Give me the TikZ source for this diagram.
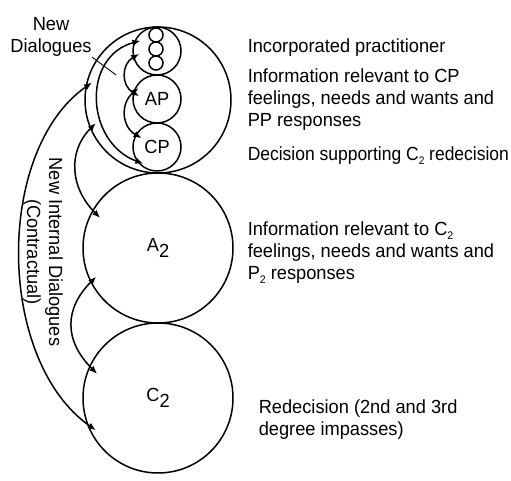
\documentclass[tikz,border=0pt]{standalone}
\usepackage{fontspec}
\setmainfont[FakeStretch=0.96]{Liberation Sans}
\newfontfamily\narrowfont[FakeStretch=0.92]{Liberation Sans}
\usetikzlibrary{arrows,arrows.meta}

\newcommand{\lowtwo}{\raisebox{-6pt}{2}}
\newcommand{\subtwo}{\raisebox{-4pt}{\fontsize{11}{11}\selectfont 2}}

\begin{document}
\begin{tikzpicture}[x=1pt,y=1pt,>={Latex[length=8pt,width=6.5pt]},line width=1.5pt,
    font=\fontsize{19}{22}\selectfont,
    ring node/.style={circle,draw,inner sep=0pt,minimum size=#1},
    dlg/.style={<->,shorten <=-7pt,shorten >=-7pt},
    far dlg/.style={<->,shorten <=-8pt,shorten >=-11pt},
    note/.style={anchor=north west,align=left,inner sep=0pt}]

  \useasboundingbox (0,0) rectangle (511,481);

  % ego states
  \node[ring node=146pt] (self) at (158,381) {};
  \node[ring node=48pt] (P) at (157,430) {};
  \node[ring node=48pt] (AP) at (157,382) {AP};
  \node[ring node=48pt] (CP) at (157,334) {CP};
  \foreach \y/\n in {446/1,432/2,418/3}
    \node[ring node=14pt] (t\n) at (156,\y) {};
  \node[ring node=150pt] (A2) at (158,233) {A\lowtwo};
  \node[ring node=150pt] (C2) at (158,83) {C\lowtwo};

  % dialogues
  \path
        (P.160) edge[dlg,out=195,in=160,looseness=1.17] (CP.215)
        (P.195) edge[dlg,out=210,in=150] (AP.165)
        (AP.165) edge[dlg,out=220,in=150] (CP.150)
        (self.170) edge[far dlg,out=215,in=145,looseness=0.84] (C2.200)
        (self.203) edge[far dlg,out=225,in=135] (A2.150)
        (A2.207) edge[far dlg,out=225,in=135,looseness=1.12] (C2.155);

  \node[align=center,inner sep=0pt] (newdlg) at (51,444) {New\\Dialogues};
  \coordinate (dlgtip) at (116,406);
  \draw[line width=0.9pt] (newdlg.south east) -- (dlgtip);

  \node[rotate=-90,align=center,inner sep=0pt] (internal) at (43,229)
    {New Internal Dialogues\\(Contractual)};

  % notes
  \node[note] (incorp) at (247,443) {Incorporated practitioner};
  \node[note] (infocp) at (247,413)
    {Information relevant to CP\\feelings, needs and wants and\\PP responses};
  \node[note,font=\fontsize{19}{22}\narrowfont] (decide) at (247,335)
    {Decision supporting C\subtwo{} redecision};
  \node[note] (infoc2) at (247,260)
    {Information relevant to C\subtwo\\feelings, needs and wants and\\P\subtwo{} responses};
  \node[note] (redecide) at (258,82)
    {Redecision (2nd and 3rd\\degree impasses)};

\end{tikzpicture}
\end{document}
